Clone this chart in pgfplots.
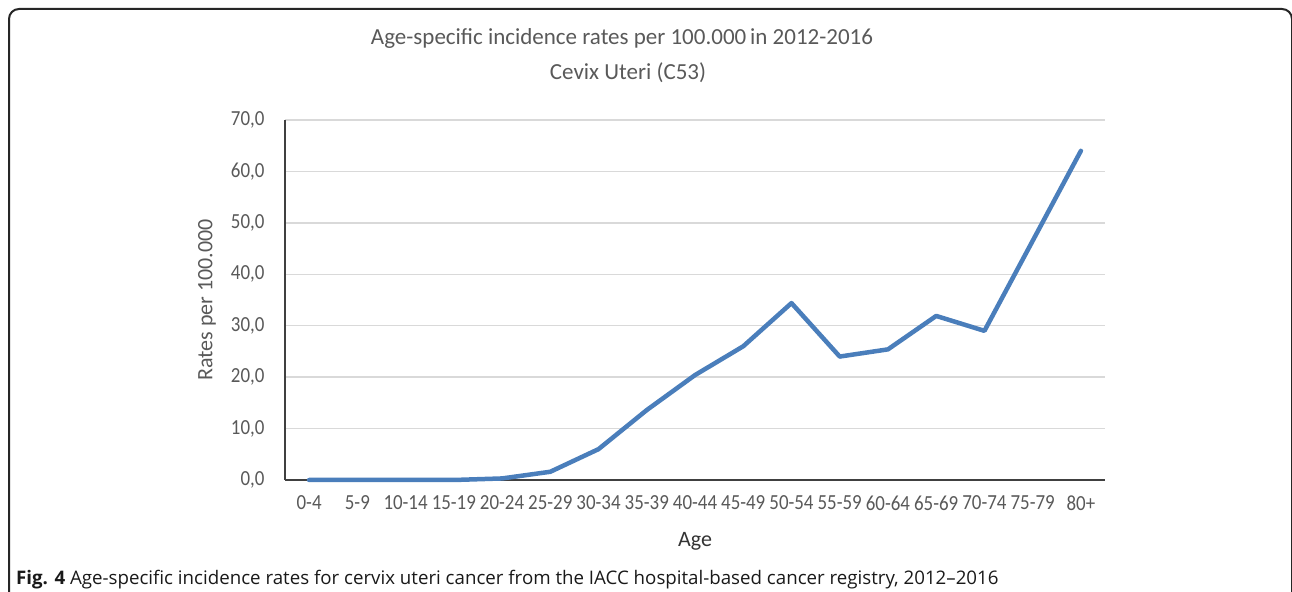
\documentclass[border=0pt]{standalone}
\usepackage{fontspec}
\setmainfont{Carlito}
\newfontfamily\tickfont{Carlito}[FakeStretch=0.88]
\newfontfamily\capfont{Open Sans}
\usepackage{pgfplots}
\pgfplotsset{compat=1.18}
\definecolor{txt}{HTML}{595959}
\definecolor{grd}{HTML}{D9D9D9}
\definecolor{axl}{HTML}{404040}
\definecolor{ser}{HTML}{4A7EBB}
\begin{document}
\begin{tikzpicture}[x=1bp,y=1bp]
\useasboundingbox (0,0) rectangle (1292,592);
% frame
\draw[line width=2bp, black!85] (9,-10) -- (9,573) arc[start angle=180, end angle=90, radius=10] -- (1282,583) arc[start angle=90, end angle=0, radius=10] -- (1292,-10);
\begin{axis}[
  at={(285bp,112bp)}, anchor=south west,
  scale only axis, width=820bp, height=360bp,
  xmin=-0.5, xmax=16.5, ymin=0, ymax=70,
  axis lines=left,
  axis line style={-, draw=axl, line width=1.8bp},
  xtick={0,...,16},
  xticklabels={0-4,5-9,10-14,15-19,20-24,25-29,30-34,35-39,40-44,45-49,50-54,55-59,60-64,65-69,70-74,75-79,80+},
  ytick={0,10,...,70},
  yticklabels={{0,0},{10,0},{20,0},{30,0},{40,0},{50,0},{60,0},{70,0}},
  major tick length=0pt,
  ymajorgrids, grid style={draw=grd, line width=1.5bp},
  tick label style={font=\tickfont\fontsize{21.5bp}{25bp}\selectfont, text=txt},
  yticklabel style={xshift=-17bp},
  xticklabel style={yshift=-12bp},
  clip=false,
]
\addplot[draw=ser, line width=4.5bp, line join=round, line cap=round] coordinates {
(0,0) (1,0) (2,0) (3,0) (4,0.3) (5,1.6) (6,6.0) (7,13.6) (8,20.4) (9,26.0) (10,34.4) (11,24.0) (12,25.4) (13,31.9) (14,29.0) (15,46.5) (16,64.0)
};
\end{axis}
\node[anchor=base, text=txt, font=\fontsize{23bp}{26bp}\selectfont] at (622,547) {Age-specific incidence rates per 100.000\,in 2012-2016};
\node[anchor=base, text=txt, font=\fontsize{23bp}{26bp}\selectfont] at (628,512) {Cevix Uteri (C53)};
\node[text=txt, rotate=90, font=\fontsize{22bp}{26bp}\selectfont] at (207,292) {Rates per 100.000};
\node[anchor=base, text=black!80, font=\fontsize{22bp}{26bp}\selectfont] at (695,45) {Age};
\node[anchor=base west, inner sep=0pt, text=black!90, font=\capfont\fontsize{18.7bp}{22bp}\selectfont] at (16,7) {\textbf{Fig. 4} Age-specific incidence rates for cervix uteri cancer from the IACC hospital-based cancer registry, 2012–2016};
\end{tikzpicture}
\end{document}
